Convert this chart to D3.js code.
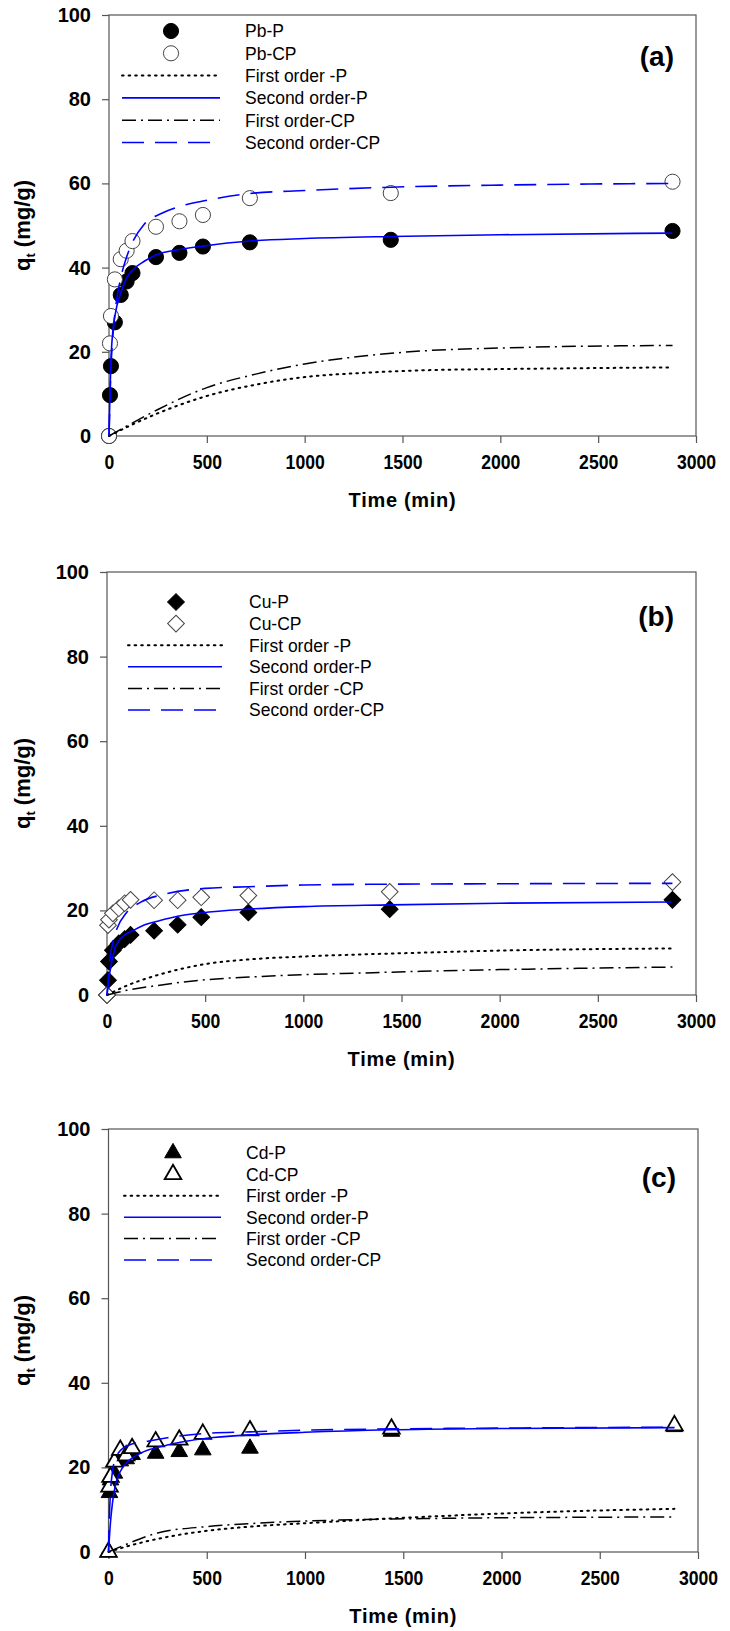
<!DOCTYPE html>
<html lang="en">
<head>
  <meta charset="UTF-8">
  <title>Kinetics of Pb, Cu, Cd sorption</title>
  <style>
    body { margin: 0; background: #fff; font-family: Arial, "Liberation Sans", sans-serif; }
    .tick line { stroke: #555; stroke-width: 1.2px; }
    .tick text { font-weight: bold; fill: #000; font-family: Arial, "Liberation Sans", sans-serif; }
    .xax .tick text { font-size: 20px; }
    .yax .tick text { font-size: 20px; }
    .legend text { font-size: 17.5px; fill: #000; }
    .fit { fill: none; }
  </style>
</head>
<body>
  <svg width="730" height="1631"></svg>
  <script src="https://d3js.org/d3.v7.min.js"></script>
  <script>
    // sampling times of the experimental points (min)
    const sampleTimes = [0, 5, 10, 30, 60, 90, 120, 240, 360, 480, 720, 1440, 2880];
    const xTicks = [0, 500, 1000, 1500, 2000, 2500, 3000];
    const yTicks = [0, 20, 40, 60, 80, 100];

    // (a) Pb
    const pbP  = [0, 9.7, 16.6, 27, 33.5, 36.7, 38.7, 42.5, 43.5, 45, 46, 46.6, 48.7];
    const pbCP = [0, 22, 28.5, 37.2, 42, 44, 46.3, 49.7, 51, 52.5, 56.5, 57.7, 60.4];
    // (b) Cu
    const cuP  = [0, 3.5, 7.9, 10.6, 12.2, 13.2, 14.2, 15.2, 16.6, 18.4, 19.5, 20.3, 22.5];
    const cuCP = [0, 16.5, 17.8, 19.3, 20.5, 21.7, 22.5, 22.4, 22.4, 23.1, 23.5, 24.4, 26.7];
    // (c) Cd
    const cdP  = [0, 14, 17, 18.6, 21.5, 22, 23, 23.3, 23.7, 24.1, 24.5, 28.5, 29.6];
    const cdCP = [0, 15.4, 17.7, 21.3, 24.1, 22.8, 24.5, 26.1, 26.5, 27.9, 28.7, 29.1, 29.9];

    // fitted curves
    const firstOrderTimes = [0, 100, 250, 500, 750, 1000, 1300, 1600, 2000, 2400, 2880];
    const foPA  = [0, 2.3, 5.4, 9.5, 12.2, 14.0, 15.0, 15.6, 15.9, 16.1, 16.3];
    const foCPA = [0, 2.6, 6.3, 11.5, 14.7, 17.1, 19.0, 20.2, 20.9, 21.3, 21.5];
    const foPB  = [0, 2.2, 4.6, 7.3, 8.5, 9.1, 9.6, 10.0, 10.5, 10.8, 11.0];
    const foCPB = [0, 1.1, 2.2, 3.6, 4.3, 4.8, 5.2, 5.6, 6.0, 6.3, 6.6];
    const foPC  = [0, 1.4, 3.1, 5.0, 6.1, 6.8, 7.6, 8.3, 9.1, 9.7, 10.2];
    const foCPC = [0, 2.0, 4.5, 6.0, 6.8, 7.3, 7.7, 7.9, 8.1, 8.2, 8.3];

    const soPTimesA  = [0, 5, 10, 20, 30, 60, 90, 120, 180, 240, 360, 480, 720, 1000, 1440, 2000, 2880];
    const soPA       = [0, 10, 18, 25, 28.5, 34, 37.5, 39.4, 41.5, 43, 44.3, 45.1, 46.3, 46.9, 47.4, 47.8, 48.2];
    const soCPTimesA = [0, 10, 20, 35, 60, 90, 120, 180, 270, 360, 480, 720, 1000, 1440, 2000, 2880];
    const soCPA      = [0, 16, 24, 31, 37.5, 42.5, 46, 50.3, 52.9, 54.5, 55.8, 57.6, 58.3, 59.1, 59.6, 60.0];

    const soPTimesB  = [0, 10, 20, 40, 60, 90, 135, 200, 270, 360, 480, 720, 1000, 1440, 2000, 2880];
    const soPB       = [0, 4, 6.8, 11, 12.8, 14.2, 15.3, 16.7, 17.6, 18.6, 19.4, 20.3, 20.9, 21.3, 21.7, 22.0];
    const soCPTimesB = [0, 10, 20, 35, 50, 100, 170, 300, 500, 720, 1000, 1440, 2000, 2880];
    const soCPB      = [0, 6, 10, 13.5, 15.6, 19.5, 21.9, 23.9, 25.2, 25.6, 26.0, 26.2, 26.3, 26.4];

    const soPTimesC  = [0, 10, 20, 35, 50, 75, 100, 160, 300, 500, 720, 1000, 1440, 2000, 2880];
    const soPC       = [0, 7, 11.5, 15.8, 18, 20.2, 21.5, 23.3, 25.3, 26.9, 27.7, 28.3, 28.9, 29.2, 29.4];
    const soCPTimesC = [0, 5, 10, 20, 40, 60, 100, 200, 300, 480, 720, 1000, 1440, 2000, 2880];
    const soCPC      = [0, 9, 14, 19, 22.5, 24, 25.2, 26.2, 27, 28, 28.4, 28.8, 29.1, 29.3, 29.5];

    const svg = d3.select("svg");

    const lineStyles = {
      foP:  { stroke: "#000", width: 2, dash: "1.6,5", cap: "round" },
      soP:  { stroke: "#0000ff", width: 1.6, dash: null },
      foCP: { stroke: "#000", width: 1.5, dash: "14,5,2,5" },
      soCP: { stroke: "#0000ff", width: 1.6, dash: "22,11" }
    };

    const shapes = {
      circle:   { type: d3.symbolCircle, size: 180, rot: 0 },
      diamond:  { type: d3.symbolSquare, size: 140, rot: 45 },
      triangle: { type: d3.symbolTriangle, size: 120, rot: 0 }
    };

    function marker(sel, shape, filled, cx, cy) {
      const s = shapes[shape];
      sel.append("path")
        .attr("d", d3.symbol().type(s.type).size(s.size)())
        .attr("transform", `translate(${cx},${cy}) rotate(${s.rot})`)
        .attr("fill", filled ? "#000" : "#fff")
        .attr("stroke", filled ? "#000" : (shape === "triangle" ? "#000" : "#444"))
        .attr("stroke-width", filled ? 1 : (shape === "triangle" ? 1.8 : 1));
    }

    function styleLine(path, st) {
      path.attr("stroke", st.stroke).attr("stroke-width", st.width)
        .attr("stroke-dasharray", st.dash).attr("stroke-linecap", st.cap || "butt");
    }

    function drawPanel(cfg) {
      const x = d3.scaleLinear().domain([0, 3000]).range([cfg.left, cfg.right]);
      const y = d3.scaleLinear().domain([0, 100]).range([cfg.bottom, cfg.top]);
      const g = svg.append("g");

      g.append("rect")
        .attr("x", cfg.left).attr("y", cfg.top)
        .attr("width", cfg.right - cfg.left).attr("height", cfg.bottom - cfg.top)
        .attr("fill", "none").attr("stroke", "#555").attr("stroke-width", 1.2);

      const xa = g.append("g").attr("class", "xax").attr("transform", `translate(0,${cfg.bottom})`)
        .call(d3.axisBottom(x).tickValues(xTicks).tickFormat(d3.format("d"))
          .tickSize(7).tickPadding(12).tickSizeOuter(0));
      const ya = g.append("g").attr("class", "yax").attr("transform", `translate(${cfg.left},0)`)
        .call(d3.axisLeft(y).tickValues(yTicks).tickSize(7).tickPadding(11).tickSizeOuter(0));
      xa.select(".domain").remove();
      ya.select(".domain").remove();
      // the bottom labels are narrower than they are tall
      xa.selectAll(".tick text").attr("transform", "scale(0.88,1)");

      // axis titles
      g.append("text")
        .attr("x", (cfg.left + cfg.right) / 2).attr("y", cfg.bottom + 71)
        .attr("text-anchor", "middle")
        .style("font-size", "20px").style("font-weight", "bold").style("letter-spacing", "0.7px")
        .text("Time (min)");
      const yt = g.append("text")
        .attr("transform", `translate(30,${(cfg.top + cfg.bottom) / 2}) rotate(-90)`)
        .attr("text-anchor", "middle")
        .style("font-size", "22px").style("font-weight", "bold");
      yt.append("tspan").text("q");
      yt.append("tspan").attr("dy", 5).style("font-size", "13px").text("t");
      yt.append("tspan").attr("dy", -5).text(" (mg/g)");

      // panel letter
      g.append("text")
        .attr("x", cfg.right - 22).attr("y", cfg.top + cfg.labelDy)
        .attr("text-anchor", "end")
        .style("font-size", "28px").style("font-weight", "bold")
        .text(cfg.letter);

      // experimental points: P first, CP on top
      const pts = g.append("g");
      d3.zip(sampleTimes, cfg.pData).forEach(d => marker(pts, cfg.shape, true, x(d[0]), y(d[1])));
      d3.zip(sampleTimes, cfg.cpData).forEach(d => marker(pts, cfg.shape, false, x(d[0]), y(d[1])));

      // fitted curves
      const line = d3.line().x(d => x(d[0])).y(d => y(d[1])).curve(d3.curveMonotoneX);
      cfg.fits.forEach(f => {
        const p = g.append("path").attr("class", "fit").attr("d", line(d3.zip(f.t, f.q)));
        styleLine(p, lineStyles[f.key]);
      });

      // legend
      const lg = g.append("g").attr("class", "legend");
      const L = cfg.legend;
      const rowY = i => cfg.top + L.dy + i * L.step;
      marker(lg, cfg.shape, true, L.mx, rowY(0));
      marker(lg, cfg.shape, false, L.mx, rowY(1));
      ["foP", "soP", "foCP", "soCP"].forEach((k, i) => {
        const p = lg.append("line")
          .attr("x1", L.x1).attr("x2", L.x2).attr("y1", rowY(i + 2)).attr("y2", rowY(i + 2));
        styleLine(p, lineStyles[k]);
      });
      cfg.names.forEach((n, i) => {
        lg.append("text").attr("x", L.tx).attr("y", rowY(i)).attr("dy", "0.36em").text(n);
      });
    }

    drawPanel({
      left: 109, right: 696, top: 15, bottom: 436, letter: "(a)", labelDy: 51, shape: "circle",
      pData: pbP, cpData: pbCP,
      names: ["Pb-P", "Pb-CP", "First order -P", "Second order-P", "First order-CP", "Second order-CP"],
      legend: { mx: 171, x1: 122, x2: 220, tx: 245, dy: 16, step: 22.3 },
      fits: [
        { key: "foP", t: firstOrderTimes, q: foPA },
        { key: "foCP", t: firstOrderTimes, q: foCPA },
        { key: "soP", t: soPTimesA, q: soPA },
        { key: "soCP", t: soCPTimesA, q: soCPA }
      ]
    });

    drawPanel({
      left: 107, right: 696, top: 572, bottom: 995, letter: "(b)", labelDy: 54, shape: "diamond",
      pData: cuP, cpData: cuCP,
      names: ["Cu-P", "Cu-CP", "First order -P", "Second order-P", "First order -CP", "Second order-CP"],
      legend: { mx: 176, x1: 128, x2: 222, tx: 249, dy: 30, step: 21.6 },
      fits: [
        { key: "foP", t: firstOrderTimes, q: foPB },
        { key: "foCP", t: firstOrderTimes, q: foCPB },
        { key: "soP", t: soPTimesB, q: soPB },
        { key: "soCP", t: soCPTimesB, q: soCPB }
      ]
    });

    drawPanel({
      left: 108.5, right: 698, top: 1129, bottom: 1552, letter: "(c)", labelDy: 58, shape: "triangle",
      pData: cdP, cpData: cdCP,
      names: ["Cd-P", "Cd-CP", "First order -P", "Second order-P", "First order -CP", "Second order-CP"],
      legend: { mx: 173, x1: 124, x2: 221, tx: 246, dy: 24, step: 21.4 },
      fits: [
        { key: "foP", t: firstOrderTimes, q: foPC },
        { key: "foCP", t: firstOrderTimes, q: foCPC },
        { key: "soP", t: soPTimesC, q: soPC },
        { key: "soCP", t: soCPTimesC, q: soCPC }
      ]
    });
  </script>
</body>
</html>
